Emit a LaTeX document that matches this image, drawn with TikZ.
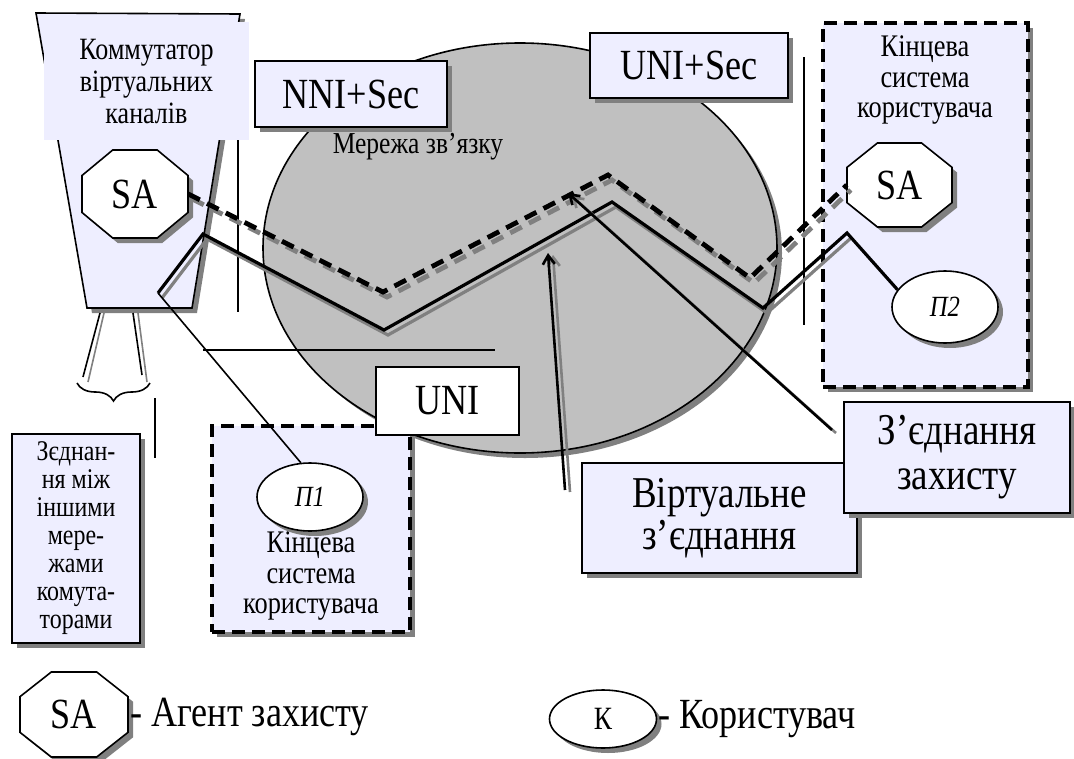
\documentclass[tikz,border=0pt]{standalone}
\usepackage{fontspec}
\setmainfont{Liberation Serif}[FakeStretch=0.84]
\usetikzlibrary{shadows,arrows.meta,decorations.pathreplacing,calc,shapes.geometric}
\definecolor{lav}{RGB}{238,238,255}
\definecolor{cloudgray}{RGB}{192,192,192}
\definecolor{shd}{RGB}{128,128,128}
\newcommand\fbig{\fontsize{43}{47}\selectfont}
\newcommand\fsw{\fontsize{31}{32}\selectfont}
\newcommand\fnet{\fontsize{30.4}{32}\selectfont}
\newcommand\fend{\fontsize{31.4}{30.5}\selectfont}
\newcommand\fcon{\fontsize{28.5}{28}\selectfont}
\newcommand\fvc{\fontsize{44}{42}\selectfont}
\newcommand\fsec{\fontsize{44}{45}\selectfont}
\newcommand\fuser{\fontsize{29.3}{30}\selectfont\itshape}
\newcommand\fk{\fontsize{32.5}{33}\selectfont}
\tikzset{
  shadowed/.style={drop shadow={shadow xshift=5pt,shadow yshift=-5pt,opacity=1,fill=shd}},
  box/.style={draw,line width=1.9pt,fill=lav,shadowed,inner sep=0pt},
  dbox/.style={draw,line width=3.3pt,dash pattern=on 13pt off 7pt,fill=lav,shadowed,inner sep=0pt},
  thinline/.style={line width=1.6pt},
  route/.style={line width=3.2pt},
  sroute/.style={line width=3.2pt,draw=shd},
  droute/.style={line width=4.8pt,dash pattern=on 13pt off 8pt},
  user/.style={ellipse,draw,line width=1.6pt,fill=white,shadowed,inner sep=0pt},
  lbl/.style={align=center,inner sep=0pt},
  arr/.style={line width=2.6pt,-{Straight Barb[length=9pt,width=12pt]}},
  sarr/.style={line width=2.6pt,draw=shd,-{Straight Barb[length=9pt,width=12pt]}},
}
\newcommand{\saoct}[6]{%
  \pgfmathsetmacro\ohw{#4/2}\pgfmathsetmacro\ohh{#5/2}%
  \pgfmathsetmacro\ocx{#4/2-0.29*#4}\pgfmathsetmacro\ocy{#5/2-0.29*#5}%
  \begin{scope}[shift={(#2,#3)}]
    \fill[shd,shift={(5,5)}] (-\ocx,-\ohh) -- (\ocx,-\ohh) -- (\ohw,-\ocy) -- (\ohw,\ocy) -- (\ocx,\ohh) -- (-\ocx,\ohh) -- (-\ohw,\ocy) -- (-\ohw,-\ocy) -- cycle;
    \filldraw[fill=white,line width=1.6pt] (-\ocx,-\ohh) -- (\ocx,-\ohh) -- (\ohw,-\ocy) -- (\ohw,\ocy) -- (\ocx,\ohh) -- (-\ocx,\ohh) -- (-\ohw,\ocy) -- (-\ohw,-\ocy) -- cycle;
  \end{scope}
  \node[minimum width=#4pt,minimum height=#5pt,inner sep=0pt,font=#6] (#1) at (#2,#3) {SA};
}
\begin{document}
\begin{tikzpicture}[x=1pt,y=-1pt]
\useasboundingbox (0,0) rectangle (1074,758);

% network cloud
\node[ellipse,draw,line width=1.6pt,fill=cloudgray,shadowed,minimum width=514pt,minimum height=410pt,inner sep=0pt] (net) at (520,248) {};
\node[lbl,font=\fnet] (netlbl) at (418,147) {Мережа зв’язку};

% switch
\fill[shd,shift={(5,5)}] (36,13) -- (240,14) -- (192,308) -- (87,308) -- cycle;
\filldraw[fill=lav,line width=1.6pt] (36,13) -- (240,14) -- (192,308) -- (87,308) -- cycle;
\draw[thinline] (238,30) -- (238,312);
\node[lbl,fill=lav,minimum width=205pt,minimum height=118pt,font=\fsw] (swlbl) at (146.5,81) {Коммутатор\\віртуальних\\каналів};

% lines under switch
\draw[thinline,shd] (104,313) -- (88,382);
\draw[thinline] (100,313) -- (83,377);
\draw[thinline,shd] (138,313) -- (147,382);
\draw[thinline] (133,313) -- (142,375);
\draw[thinline,decorate,decoration={brace,mirror,amplitude=18pt}] (77,383) -- (150,383);
\draw[thinline] (155,398) -- (155,458);

% other separator lines
\draw[thinline] (203,350) -- (495,350);
\draw[thinline] (804,57) -- (804,325);

% interface boxes
\node[box,minimum width=192pt,minimum height=66pt,font=\fbig] (nni) at (351,94) {NNI+Sec};
\node[box,minimum width=198pt,minimum height=65pt,font=\fbig] (unisec) at (689,65.5) {UNI+Sec};

% end systems
\node[dbox,minimum width=205pt,minimum height=364pt] (es2) at (925.5,205) {};
\node[lbl,font=\fend] (es2lbl) at (925,80) {Кінцева\\система\\користувача};
\node[dbox,minimum width=198pt,minimum height=206pt] (es1) at (311,529) {};
\node[lbl,font=\fend] (es1lbl) at (311,576) {Кінцева\\система\\користувача};
\node[draw,line width=1.9pt,fill=white,inner sep=0pt,minimum width=143pt,minimum height=68pt,font=\fbig] (uni) at (447.5,401) {UNI};

% other-networks box
\node[box,lbl,minimum width=128pt,minimum height=209pt,font=\fcon] (other) at (76,538.5) {Зєднан-\\ня між\\іншими\\мере-\\жами\\комута-\\торами};

% agents and users
\saoct{sa1}{135}{194}{106}{88}{\fbig}
\saoct{sa2}{899.5}{185}{105}{84}{\fbig}
\node[user,minimum width=106pt,minimum height=68pt,font=\fuser] (p1) at (310,497) {П1};
\node[user,minimum width=106pt,minimum height=72pt,font=\fuser] (p2) at (945,307) {П2};

% virtual connection route
\coordinate (s0) at (158,293);
\coordinate (s1) at (203,234);
\coordinate (s2) at (384,330);
\coordinate (s3) at (612,202);
\coordinate (s4) at (763,308);
\coordinate (s5) at (847,233);
\draw[sroute,transform canvas={xshift=4pt,yshift=-5pt}] (s0) -- (s1) -- (s2) -- (s3) -- (s4) -- (s5);
\draw[route] (s0) -- (s1) -- (s2) -- (s3) -- (s4) -- (s5) -- (p2.160);
\draw[thinline] (s0) -- (p1.105);

% security connection route
\coordinate (d1) at (383,292);
\coordinate (d2) at (608,175);
\coordinate (d3) at (750,278);
\draw[droute,shd,transform canvas={xshift=4pt,yshift=-5pt}] (sa1.east) -- (d1) -- (d2) -- (d3) -- (sa2.west);
\draw[droute] (sa1.east) -- (d1) -- (d2) -- (d3) -- (sa2.west);

% pointers
\coordinate (secTail) at (832,430);
\coordinate (secTip) at (568,193);
\coordinate (vcTail) at (565,490);
\coordinate (vcTip) at (548,253);
\draw[sarr,transform canvas={xshift=4pt,yshift=-3pt}] (secTail) -- (secTip);
\draw[arr] (secTail) -- (secTip);
\draw[sarr,transform canvas={xshift=5pt,yshift=-2pt}] (vcTail) -- (vcTip);
\draw[arr] (vcTail) -- (vcTip);

% captions
\node[box,lbl,minimum width=275pt,minimum height=110pt,font=\fvc] (vc) at (719.5,518) {Віртуальне\\з’єднання};
\node[box,lbl,minimum width=226pt,minimum height=111pt,font=\fsec] (sc) at (957,457.5) {З’єднання\\захисту};

% legend
\saoct{lsa}{74}{714.5}{108}{85}{\fbig}
\node[anchor=west,inner sep=0pt,font=\fbig] (lsatext) at (130,717) {- Агент захисту};
\node[user,minimum width=107pt,minimum height=58pt,font=\fk] (lk) at (603,719) {К};
\node[anchor=west,inner sep=0pt,font=\fbig] (lktext) at (658,719) {- Користувач};
\end{tikzpicture}
\end{document}
